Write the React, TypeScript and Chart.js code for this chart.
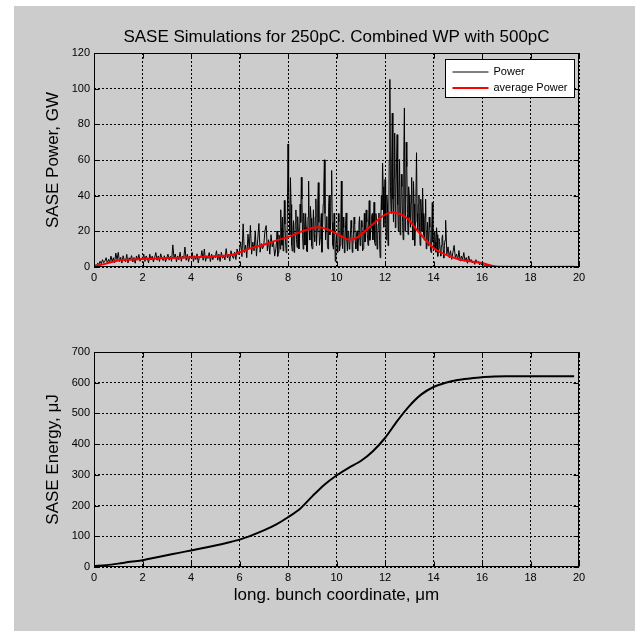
import React, { useEffect, useRef } from "react";
import { Chart, registerables } from "chart.js";

Chart.register(...registerables);

const FONT = "'Liberation Sans', Arial, Helvetica, sans-serif";

const chartTitle = "SASE Simulations for 250pC. Combined WP with 500pC";
const powerLabel = "Power";
const avgLabel = "average Power";
const topYLabel = "SASE Power, GW";
const bottomYLabel = "SASE Energy, \u03bcJ";
const xLabel = "long. bunch coordinate, \u03bcm";

const xMin = 0;
const xMax = 20;
const xStep = 2;
const powerMax = 120;
const powerTickStep = 20;
const energyMax = 700;
const energyTickStep = 100;

// Power samples every 0.05 um starting at 0
const powerStep = 0.05;
const powerValues = [
  0.3, 1.2, 0.8, 2.1, 1.5, 3.2, 1.8, 4.1, 2.4, 3.3, 5.2, 2.1, 4.3, 2.8, 6.1, 3.0, 5.2, 2.4, 7.8, 4.1,
  8.2, 3.1, 5.4, 2.2, 6.3, 3.8, 2.9, 7.1, 2.3, 5.2, 4.1, 6.4, 2.8, 5.3, 2.1, 6.2, 3.9, 7.0, 3.2, 5.1,
  4.2, 7.3, 3.1, 6.2, 4.8, 2.3, 7.2, 3.9, 6.1, 2.8, 5.3, 8.1, 3.8, 6.2, 3.1, 7.4, 4.9, 3.6, 6.3, 2.9,
  5.1, 7.2, 3.8, 6.0, 3.2, 12.4, 4.8, 7.3, 2.9, 6.2, 4.1, 8.3, 3.2, 6.1, 4.9, 11.2, 3.8, 7.1, 3.0, 6.2,
  5.0, 8.2, 3.1, 6.3, 4.2, 7.4, 2.3, 6.1, 5.0, 9.2, 3.8, 10.1, 3.2, 6.3, 4.8, 8.1, 3.0, 7.2, 4.1, 6.3,
  5.2, 9.1, 3.8, 7.2, 3.1, 8.3, 4.9, 6.2, 4.0, 10.3, 5.1, 7.2, 3.3, 9.1, 6.2, 4.8, 8.3, 4.2, 10.1, 7.0,
  9.2, 14.1, 5.8, 24.2, 8.1, 12.3, 5.2, 18.4, 10.1, 23.3, 7.2, 14.0, 9.1, 20.3, 6.1, 15.2, 24.4, 8.3, 13.1, 10.2,
  12.1, 20.3, 23.2, 9.1, 15.3, 7.2, 18.1, 11.3, 14.2, 6.1, 10.3, 20.2, 8.1, 16.3, 32.1, 12.2, 9.0, 37.3, 14.1, 10.2,
  69.0, 30.2, 50.1, 12.3, 20.4, 8.2, 25.1, 15.3, 28.2, 10.1, 35.2, 50.3, 18.1, 30.2, 12.3, 22.1, 8.4, 48.2, 15.1, 27.3,
  10.2, 32.1, 14.3, 38.2, 20.1, 47.3, 12.2, 25.1, 8.3, 35.2, 60.1, 15.2, 28.3, 10.1, 40.2, 20.3, 54.1, 12.2, 30.1, 3.2,
  18.1, 8.2, 25.3, 12.1, 48.2, 10.3, 22.1, 14.2, 30.3, 9.1, 20.2, 12.3, 26.1, 8.2, 18.3, 24.1, 10.2, 20.3, 15.1, 28.2,
  14.1, 22.3, 10.2, 30.1, 16.3, 25.2, 12.1, 37.2, 18.3, 28.1, 15.2, 36.3, 12.1, 26.2, 18.1, 30.3, 5.2, 40.1, 58.2, 22.3,
  49.1, 15.2, 35.3, 20.1, 105.2, 30.1, 86.3, 25.2, 75.1, 40.3, 74.2, 20.1, 60.3, 30.2, 45.1, 15.3, 89.2, 35.1, 56.3, 18.2,
  40.1, 22.3, 50.2, 15.1, 35.3, 25.2, 64.1, 20.3, 40.2, 12.1, 30.3, 44.2, 18.1, 28.3, 10.2, 25.1, 16.3, 22.2, 8.1, 36.2,
  15.1, 20.2, 8.3, 18.1, 10.2, 14.3, 6.1, 16.2, 9.3, 12.1, 26.2, 7.1, 11.3, 5.2, 9.1, 4.3, 8.2, 12.1, 5.3, 7.2,
  4.1, 9.2, 3.3, 6.1, 4.2, 8.1, 3.2, 5.3, 2.1, 6.2, 3.1, 4.2, 2.3, 3.1, 1.5, 4.1, 2.2, 3.1, 1.2, 2.1,
  1.1, 1.5, 0.6, 1.0, 0.5, 0.8, 0.3, 0.5, 0.2, 0.1, 0.0,
];
// extra in-between samples (7.525 .. 14.475, every 0.05 um) in the dense region
const powerFineStart = 7.525;
const powerFineValues = [
  14, 6, 18, 10, 22, 28, 15, 24, 8, 30,
  42, 18, 35, 9, 26, 14, 32, 11, 20, 16,
  25, 38, 10, 22, 30, 9, 28, 20, 34, 12,
  22, 18, 28, 12, 35, 25, 16, 30, 20, 44,
  30, 22, 12, 34, 18, 40, 25, 10, 20, 12,
  12, 30, 9, 22, 18, 28, 8, 24, 15, 20,
  10, 18, 22, 12, 28, 14, 18, 9, 24, 12,
  26, 9, 20, 14, 32, 18, 24, 15, 22, 30,
  20, 14, 30, 10, 24, 15, 25, 32, 45, 30,
  28, 40, 12, 60, 45, 55, 38, 50, 22, 58,
  35, 44, 18, 52, 25, 62, 20, 70, 30, 45,
  28, 36, 24, 48, 12, 40, 30, 35, 22, 38,
  20, 30, 15, 38, 18, 12, 28, 10, 20, 14,
  10, 14, 22, 6, 16, 9, 12, 18, 5, 15,
];
const powerTailX = [17, 19.8];
const powerTailY = [0, 0];

const avgX = [0, 0.5, 1, 1.5, 2, 3, 4, 5, 5.7, 6, 6.5, 7, 7.5, 8, 8.5, 9, 9.3, 9.7, 10, 10.4, 10.6, 10.9, 11.4, 12, 12.4, 12.9, 13.3, 14, 14.5, 15, 15.5, 16, 16.4, 16.7, 19.8];
const avgY = [0.4, 1.9, 3.7, 4.1, 4.5, 5.0, 5.4, 6.0, 6.9, 8.2, 10.7, 12.5, 14.8, 16.8, 19.6, 21.9, 22.3, 20.8, 18.7, 15.8, 15.3, 17.0, 22.8, 29.3, 30.6, 27.5, 21.0, 10.7, 6.9, 4.5, 3.2, 2.2, 0.7, 0.1, 0.1];

const energyX = [0, 0.5, 1, 1.5, 2, 2.5, 3, 3.5, 4, 4.5, 5, 5.5, 6, 6.5, 7, 7.5, 8, 8.5, 9, 9.5, 10, 10.5, 11, 11.5, 12, 12.5, 13, 13.5, 14, 14.5, 15, 15.5, 16, 16.5, 17, 19.8];
const energyY = [3, 6, 11, 17, 22, 30, 38, 46, 54, 62, 70, 79, 89, 103, 119, 138, 162, 190, 230, 268, 298, 323, 345, 377, 420, 475, 524, 562, 586, 600, 609, 614, 618, 620, 621, 621];

const zip = (xs: number[], ys: number[]) => xs.map((x, i) => ({ x, y: ys[i] }));

const powerPoints = [
  ...powerValues.map((v, i) => ({ x: +(i * powerStep).toFixed(3), y: v })),
  ...powerFineValues.map((v, i) => ({ x: +(powerFineStart + i * powerStep).toFixed(3), y: v })),
  ...zip(powerTailX, powerTailY),
].sort((a, b) => a.x - b.x);

const framePlugin = {
  id: "matlabFrame",
  afterDraw(chart: any, _args: any, opts: any) {
    const { ctx, chartArea: a, scales } = chart;
    const L = Math.round(a.left) + 0.5;
    const R = Math.round(a.right) - 0.5;
    const T = Math.round(a.top) + 0.5;
    const B = Math.round(a.bottom) - 0.5;
    ctx.save();
    ctx.setLineDash([]);
    ctx.strokeStyle = "#000";
    ctx.lineWidth = 1;
    ctx.strokeRect(L, T, R - L, B - T);
    const tl = 5;
    ctx.beginPath();
    scales.x.ticks.forEach((t: any) => {
      const px = Math.round(scales.x.getPixelForValue(t.value)) + 0.5;
      ctx.moveTo(px, B);
      ctx.lineTo(px, B - tl);
      ctx.moveTo(px, T);
      ctx.lineTo(px, T + tl);
    });
    scales.y.ticks.forEach((t: any) => {
      const py = Math.round(scales.y.getPixelForValue(t.value)) + 0.5;
      ctx.moveTo(L, py);
      ctx.lineTo(L + tl, py);
      ctx.moveTo(R, py);
      ctx.lineTo(R - tl, py);
    });
    ctx.stroke();

    if (opts && opts.legend) {
      const w = 129;
      const h = 38;
      const x0 = Math.round(a.right) - 5 - w + 0.5;
      const y0 = Math.round(a.top) + 6 + 0.5;
      ctx.fillStyle = "#fff";
      ctx.fillRect(x0, y0, w, h);
      ctx.strokeStyle = "#000";
      ctx.strokeRect(x0, y0, w, h);
      ctx.font = `11px ${FONT}`;
      ctx.textBaseline = "middle";
      ctx.textAlign = "left";
      const dsList = chart.data.datasets;
      dsList.forEach((ds: any, i: number) => {
        const ry = y0 + 12 + i * 16;
        ctx.beginPath();
        ctx.strokeStyle = ds.borderColor;
        ctx.lineWidth = ds.borderWidth;
        ctx.moveTo(x0 + 7, Math.round(ry));
        ctx.lineTo(x0 + 43, Math.round(ry));
        ctx.stroke();
        ctx.fillStyle = "#000";
        ctx.fillText(ds.label, x0 + 48, ry);
      });
    }
    ctx.restore();
  },
};

const tickFont = { family: FONT, size: 11 };
const labelFont = { family: FONT, size: 17, weight: "normal" as const };

function xScale(showTitle: boolean, height: number) {
  return {
    type: "linear" as const,
    min: xMin,
    max: xMax,
    ticks: { stepSize: xStep, color: "#000", font: tickFont, padding: 4, maxRotation: 0 },
    grid: { color: "#000", lineWidth: 1, drawTicks: false },
    border: { display: false, dash: [2, 2] },
    title: {
      display: showTitle,
      text: xLabel,
      color: "#000",
      font: labelFont,
      padding: { top: 0, bottom: 25.8 },
    },
    afterFit: (s: any) => {
      s.height = height;
    },
  };
}

function yScale(max: number, step: number, label: string) {
  return {
    type: "linear" as const,
    min: 0,
    max,
    ticks: { stepSize: step, color: "#000", font: tickFont, padding: 4 },
    grid: { color: "#000", lineWidth: 1, drawTicks: false },
    border: { display: false, dash: [2, 2] },
    title: {
      display: true,
      text: label,
      color: "#000",
      font: labelFont,
      padding: { top: 42.8, bottom: 0 },
    },
    afterFit: (s: any) => {
      s.width = 94;
    },
  };
}

export default function App() {
  const topRef = useRef<HTMLCanvasElement>(null);
  const botRef = useRef<HTMLCanvasElement>(null);

  useEffect(() => {
    const top = new Chart(topRef.current!, {
      type: "line",
      data: {
        datasets: [
          {
            label: powerLabel,
            data: powerPoints,
            borderColor: "#000000",
            borderWidth: 1,
            pointRadius: 0,
            tension: 0,
            order: 1,
          },
          {
            label: avgLabel,
            data: zip(avgX, avgY),
            borderColor: "#ff0000",
            borderWidth: 2,
            pointRadius: 0,
            tension: 0.3,
            order: 0,
          },
        ],
      },
      options: {
        animation: false,
        responsive: false,
        layout: { padding: { left: 0, right: 56, top: 0, bottom: 0 } },
        plugins: {
          legend: { display: false },
          tooltip: { enabled: false },
          title: {
            display: true,
            text: chartTitle,
            fullSize: false,
            color: "#000",
            font: labelFont,
            padding: { top: 26.8, bottom: 5.8 },
          },
          matlabFrame: { legend: true },
        } as any,
        scales: {
          x: xScale(false, 43) as any,
          y: yScale(powerMax, powerTickStep, topYLabel) as any,
        },
      },
      plugins: [framePlugin],
    });

    const bot = new Chart(botRef.current!, {
      type: "line",
      data: {
        datasets: [
          {
            label: "Energy",
            data: zip(energyX, energyY),
            borderColor: "#000000",
            borderWidth: 2,
            pointRadius: 0,
            tension: 0.3,
          },
        ],
      },
      options: {
        animation: false,
        responsive: false,
        layout: { padding: { left: 0, right: 56, top: 42, bottom: 0 } },
        plugins: {
          legend: { display: false },
          tooltip: { enabled: false },
          matlabFrame: { legend: false },
        } as any,
        scales: {
          x: xScale(true, 64) as any,
          y: yScale(energyMax, energyTickStep, bottomYLabel) as any,
        },
      },
      plugins: [framePlugin],
    });

    return () => {
      top.destroy();
      bot.destroy();
    };
  }, []);

  return (
    <div style={{ position: "fixed", left: 0, top: 0, width: 635, height: 631, background: "#fff", overflow: "hidden" }}>
      <div style={{ position: "absolute", left: 14, top: 6, right: 0, bottom: 0, background: "#cccccc" }} />
      <canvas ref={topRef} width={635} height={310} style={{ position: "absolute", left: 0, top: 0, display: "block" }} />
      <canvas ref={botRef} width={635} height={321} style={{ position: "absolute", left: 0, top: 310, display: "block" }} />
    </div>
  );
}
